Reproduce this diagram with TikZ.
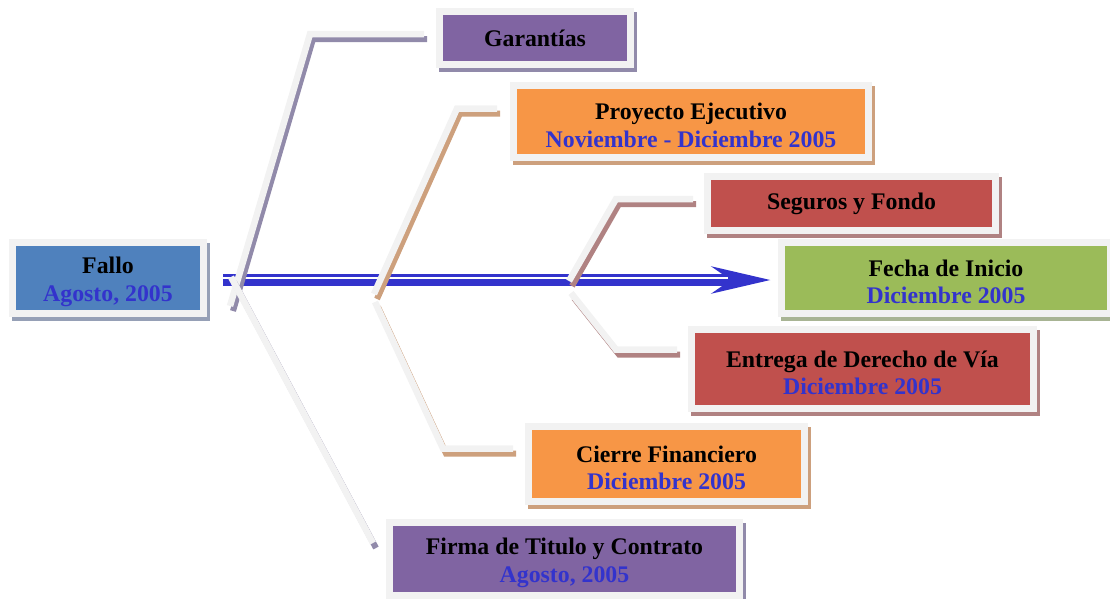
\documentclass[tikz,border=0pt]{standalone}
\usepackage{fontspec}
\setmainfont{Liberation Serif}
\usetikzlibrary{arrows.meta,positioning}

\definecolor{fallocol}{RGB}{79,129,189}
\definecolor{purplecol}{RGB}{128,100,162}
\definecolor{orangecol}{RGB}{247,150,70}
\definecolor{redcol}{RGB}{192,80,77}
\definecolor{greencol}{RGB}{155,187,89}
\definecolor{framecol}{RGB}{242,242,242}
\definecolor{datecol}{RGB}{51,51,204}
\definecolor{blueshade}{RGB}{150,160,182}
\definecolor{purpleshade}{RGB}{145,138,170}
\definecolor{orangeshade}{RGB}{205,160,125}
\definecolor{redshade}{RGB}{176,130,130}
\definecolor{greenshade}{RGB}{168,180,148}

\newcommand{\stagedate}[2]{\rule{0pt}{24pt}#1\\\textcolor{datecol}{#2}}

\tikzset{
  stage/.style={draw=framecol, line width=7pt, fill=#1, inner sep=0pt, align=center,
    font=\fontsize{23.8}{27.5}\selectfont\bfseries},
  stage shadow/.style={preaction={draw=#1, fill=#1, transform canvas={xshift=3pt,yshift=-4pt}}},
  branch/.style={draw=framecol, line width=6.5pt,
    preaction={draw=#1, line width=6pt, transform canvas={xshift=3pt,yshift=-5pt}}},
}

\begin{document}
\begin{tikzpicture}[x=1pt,y=-1pt]
	\useasboundingbox (0,0) rectangle (1110,598);
	% spine
	\coordinate (spine-start) at (223,280);
	\coordinate (spine-end) at (771,280);
	\draw [datecol, line width=12pt, -{Stealth[length=58pt, width=26pt, inset=18pt]}] (spine-start) -- (spine-end);
	\draw [white, line width=2pt] ([yshift=2pt]spine-start) -- (728,278);
	% branches
	\coordinate (garantias-root) at (230,306);
	\coordinate (garantias-tip) at (424,34);
	\coordinate (proyecto-root) at (374,294);
	\coordinate (proyecto-tip) at (497,108.5);
	\coordinate (seguros-root) at (569,281);
	\coordinate (seguros-tip) at (693,199);
	\coordinate (derecho-root) at (571,293);
	\coordinate (derecho-tip) at (677,349.5);
	\coordinate (cierre-root) at (375,302);
	\coordinate (cierre-tip) at (513,448.5);
	\coordinate (firma-root) at (231,277);
	\coordinate (firma-tip) at (373,543);
	\draw [branch=purpleshade] (garantias-root) -- (310,34) -- (garantias-tip);
	\draw [branch=orangeshade] (proyecto-root) -- (457,108.5) -- (proyecto-tip);
	\draw [branch=redshade] (seguros-root) -- (616,199) -- (seguros-tip);
	\draw [branch=redshade] (derecho-root) -- (616,349.5) -- (derecho-tip);
	\draw [branch=orangeshade] (cierre-root) -- (443,448.5) -- (cierre-tip);
	\draw [branch=purpleshade] (firma-root) -- (firma-tip);
	% stages
	\node [stage=fallocol, stage shadow=blueshade, minimum width=191pt, minimum height=71pt] (fallo) at (108,278) {\stagedate{Fallo}{Agosto, 2005}};
	\node [stage=purplecol, stage shadow=purpleshade, minimum width=191pt, minimum height=53pt] (garantias) at (535,38) {Garantías};
	\node [stage=orangecol, stage shadow=orangeshade, minimum width=355pt, minimum height=72pt] (proyecto) at (691,121.5) {\stagedate{Proyecto Ejecutivo}{Noviembre - Diciembre 2005}};
	\node [stage=redcol, stage shadow=redshade, minimum width=288pt, minimum height=54pt] (seguros) at (851.5,203.5) {Seguros y Fondo};
	\node [stage=greencol, stage shadow=greenshade, minimum width=329pt, minimum height=71pt] (inicio) at (946,278) {\stagedate{Fecha de Inicio}{Diciembre 2005}};
	\node [stage=redcol, stage shadow=redshade, minimum width=342pt, minimum height=79pt] (derecho) at (862.5,369) {\stagedate{Entrega de Derecho de Vía}{Diciembre 2005}};
	\node [stage=orangecol, stage shadow=orangeshade, minimum width=276pt, minimum height=75pt] (cierre) at (666.5,464) {\stagedate{Cierre Financiero}{Diciembre 2005}};
	\node [stage=purplecol, stage shadow=purpleshade, minimum width=350pt, minimum height=73pt] (firma) at (564.5,559) {\stagedate{Firma de Titulo y Contrato}{Agosto, 2005}};
\end{tikzpicture}
\end{document}
